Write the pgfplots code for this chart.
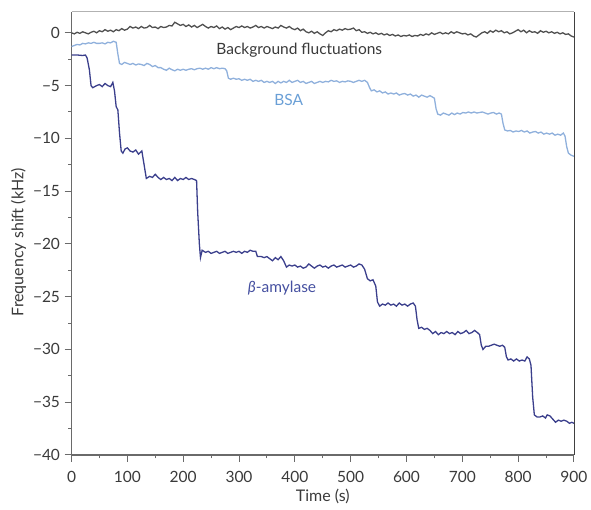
\documentclass[border=0pt]{standalone}
\usepackage{fontspec}
\setmainfont{Lato}
\usepackage{pgfplots}
\pgfplotsset{compat=1.18}
\definecolor{bgLine}{HTML}{505050}
\definecolor{bsaLine}{HTML}{8FB0DC}
\definecolor{bsaText}{HTML}{6A9FD6}
\definecolor{amyLine}{HTML}{3B3F8C}
\definecolor{amyText}{HTML}{4550A0}
\definecolor{axisInk}{HTML}{6A6A6A}
\definecolor{tickInk}{HTML}{3A3A3A}

\pgfplotstableread{
t y
0 0.0
5 -0.1
10 0.05
15 -0.05
20 0.1
25 0.0
30 -0.1
35 0.05
40 0.15
45 0.0
50 0.2
55 0.1
60 0.3
65 0.15
70 0.25
75 0.1
80 0.3
85 0.2
90 0.4
95 0.25
100 0.35
105 0.6
110 0.45
115 0.55
120 0.4
125 0.6
130 0.45
135 0.5
140 0.7
145 0.5
150 0.55
155 0.4
160 0.6
165 0.5
170 0.55
175 0.7
180 0.65
185 1.0
190 0.85
195 0.7
200 0.8
205 0.6
210 0.75
215 0.55
220 0.7
225 0.5
230 0.65
235 0.8
240 0.6
245 0.45
250 0.6
255 0.5
260 0.65
265 0.4
270 0.55
275 0.35
280 0.5
285 0.3
290 0.45
295 0.6
300 0.5
305 0.65
310 0.5
315 0.6
320 0.45
325 0.55
330 0.7
335 0.5
340 0.6
345 0.45
350 0.6
355 0.5
360 0.4
365 0.55
370 0.45
375 0.7
380 0.55
385 0.45
390 0.6
395 0.4
400 0.3
405 0.45
410 0.2
415 0.35
420 0.1
425 0.0
430 0.15
435 -0.05
440 0.1
445 -0.1
450 -0.25
455 0.0
460 0.2
465 0.1
470 0.3
475 0.2
480 0.35
485 0.25
490 0.4
495 0.3
500 0.35
505 0.45
510 0.2
515 0.3
520 0.05
525 0.1
530 -0.05
535 0.05
540 -0.1
545 0.0
550 -0.15
555 -0.05
560 -0.2
565 -0.1
570 -0.25
575 -0.15
580 -0.3
585 -0.2
590 -0.35
595 -0.25
600 -0.3
605 -0.2
610 -0.35
615 -0.25
620 -0.3
625 -0.15
630 -0.25
635 -0.1
640 -0.2
645 0.0
650 -0.15
655 -0.05
660 0.05
665 -0.1
670 0.0
675 -0.1
680 0.1
685 -0.05
690 0.1
695 0.0
700 -0.1
705 -0.05
710 -0.2
715 -0.1
720 -0.3
725 -0.4
730 -0.2
735 0.0
740 0.1
745 -0.05
750 0.2
755 0.05
760 0.25
765 0.1
770 0.2
775 0.0
780 0.1
785 -0.1
790 0.0
795 0.15
800 0.3
805 0.1
810 0.25
815 0.0
820 0.2
825 0.05
830 0.1
835 -0.05
840 0.2
845 0.05
850 0.15
855 0.0
860 0.1
865 -0.05
870 0.05
875 -0.1
880 0.0
885 -0.15
890 -0.1
895 -0.3
900 -0.4
}\bgdata

\pgfplotstableread{
t y
0 -1.3
5 -1.2
10 -1.1
15 -1.15
20 -1.0
25 -1.05
30 -0.95
35 -1.0
40 -0.9
45 -1.0
50 -1.0
55 -0.95
60 -1.05
65 -0.9
70 -0.95
75 -0.8
80 -0.9
83 -2.0
86 -2.9
90 -3.0
95 -2.8
100 -2.9
105 -3.0
110 -2.9
115 -3.05
120 -2.95
125 -3.0
130 -3.1
135 -2.9
140 -3.0
145 -3.2
150 -3.1
155 -3.3
160 -3.3
165 -3.45
170 -3.55
175 -3.35
180 -3.5
185 -3.6
190 -3.45
195 -3.55
200 -3.45
205 -3.55
210 -3.45
215 -3.4
220 -3.5
225 -3.4
230 -3.35
235 -3.45
240 -3.35
245 -3.45
250 -3.3
255 -3.4
260 -3.3
265 -3.4
270 -3.35
275 -3.4
278 -3.6
281 -4.3
285 -4.4
290 -4.3
295 -4.4
300 -4.35
305 -4.5
310 -4.4
315 -4.5
320 -4.4
325 -4.6
330 -4.5
335 -4.6
340 -4.5
345 -4.7
350 -4.6
355 -4.7
360 -4.6
365 -4.8
370 -4.6
375 -4.75
380 -4.6
385 -4.7
390 -4.5
395 -4.7
400 -4.6
405 -4.5
410 -4.7
415 -4.6
420 -4.8
425 -4.7
430 -4.6
435 -4.8
440 -4.7
445 -4.6
450 -4.7
455 -4.6
460 -4.65
465 -4.5
470 -4.6
475 -4.55
480 -4.7
485 -4.6
490 -4.65
495 -4.55
500 -4.6
505 -4.7
510 -4.6
515 -4.5
520 -4.6
525 -4.5
530 -4.7
534 -5.2
537 -5.5
542 -5.4
547 -5.6
552 -5.5
557 -5.7
562 -5.6
567 -5.8
572 -5.7
577 -5.8
582 -5.7
587 -5.9
592 -5.8
597 -5.75
602 -5.9
607 -5.8
612 -6.0
617 -5.9
622 -6.1
627 -5.9
632 -6.0
637 -6.1
642 -5.95
647 -6.1
650 -6.2
653 -7.2
656 -7.7
661 -7.8
666 -7.6
671 -7.7
676 -7.8
681 -7.6
686 -7.75
691 -7.6
696 -7.7
701 -7.55
706 -7.6
711 -7.5
716 -7.6
721 -7.5
726 -7.6
731 -7.55
736 -7.5
741 -7.6
746 -7.7
751 -7.6
756 -7.55
761 -7.7
766 -7.6
770 -7.7
773 -8.6
776 -9.2
781 -9.3
786 -9.25
791 -9.4
796 -9.3
801 -9.35
806 -9.25
811 -9.4
816 -9.3
821 -9.5
826 -9.4
831 -9.35
836 -9.5
841 -9.4
846 -9.6
851 -9.5
856 -9.6
861 -9.5
866 -9.7
871 -9.6
876 -9.7
881 -9.5
884 -9.8
887 -10.8
890 -11.4
895 -11.6
900 -11.7
}\bsadata

\pgfplotstableread{
t y
0 -2.1
10 -2.1
20 -2.15
25 -2.1
28 -2.4
32 -3.5
35 -5.0
38 -5.2
45 -5.0
50 -4.9
55 -5.1
60 -4.8
65 -5.0
70 -5.1
74 -4.7
77 -5.5
80 -7.0
83 -7.3
86 -9.5
89 -11.2
92 -11.4
96 -11.0
100 -10.9
105 -11.2
110 -11.3
115 -11.1
120 -11.5
126 -11.2
130 -12.5
134 -13.8
140 -13.6
145 -13.7
150 -13.4
155 -13.7
160 -13.9
165 -13.7
170 -13.9
175 -13.8
180 -14.0
185 -13.7
190 -14.0
195 -13.8
200 -13.9
205 -13.7
210 -13.9
215 -13.8
220 -13.9
224 -14.0
226 -17.0
229 -20.0
231 -21.3
234 -20.6
240 -20.8
245 -20.7
250 -20.9
255 -20.8
260 -20.7
265 -20.9
270 -20.8
275 -20.7
280 -20.9
285 -20.8
290 -20.7
295 -20.8
300 -20.7
305 -20.9
310 -20.7
315 -20.8
320 -20.6
325 -20.7
330 -20.7
333 -21.2
340 -21.2
345 -21.3
350 -21.2
355 -21.4
360 -21.6
365 -21.3
370 -21.5
375 -21.2
380 -21.6
385 -22.2
390 -22.0
395 -22.1
400 -22.0
405 -22.2
410 -22.1
415 -22.3
420 -22.2
425 -21.9
430 -22.1
435 -22.3
440 -22.1
445 -22.0
450 -22.2
455 -22.1
460 -22.3
465 -22.1
470 -22.0
475 -22.2
480 -22.1
485 -22.0
490 -22.2
495 -22.1
500 -22.0
505 -22.2
510 -22.1
515 -21.9
520 -22.0
525 -22.4
530 -23.3
535 -23.5
540 -23.4
545 -24.0
548 -25.5
552 -25.9
557 -25.7
562 -25.8
567 -25.6
572 -25.8
577 -25.7
582 -25.9
587 -25.6
592 -25.8
597 -25.7
602 -25.9
607 -25.7
612 -25.6
616 -25.9
619 -27.2
622 -28.0
627 -27.9
632 -28.1
637 -28.0
642 -28.2
647 -28.5
652 -28.3
657 -28.6
662 -28.4
667 -28.5
672 -28.3
677 -28.5
682 -28.4
687 -28.6
692 -28.3
697 -28.5
702 -28.4
707 -28.2
712 -28.5
717 -28.4
722 -28.2
727 -28.4
731 -28.6
734 -29.6
737 -30.0
742 -29.7
747 -29.7
752 -29.6
757 -29.5
762 -29.6
767 -29.7
772 -29.6
776 -29.8
779 -30.7
782 -31.0
787 -30.9
792 -31.1
797 -30.9
802 -31.1
807 -31.0
812 -31.1
816 -30.7
820 -30.9
823 -31.5
826 -34.5
829 -36.2
834 -36.4
839 -36.4
844 -36.3
849 -36.5
852 -36.2
857 -36.3
862 -36.6
867 -36.9
872 -36.7
877 -36.8
882 -36.7
887 -36.8
892 -37.0
896 -36.9
900 -37.0
}\amydata

\begin{document}
\begin{tikzpicture}
\begin{axis}[
    scale only axis,
    width=502.5pt, height=443.3pt,
    xmin=0, xmax=900, ymin=-40, ymax=2,
    axis x line*=bottom, axis y line*=left,
    axis line style={axisInk, line width=1.3pt, -},
    tick align=outside,
    major tick length=7pt, minor tick length=3.5pt,
    tick style={axisInk, line width=1pt},
    xtick={0,100,...,900},
    xticklabels={0,100,200,300,400,500,600,700,800,900},
    minor xtick={50,150,...,850},
    ytick={-40,-35,...,0},
    yticklabels={−40,−35,−30,−25,−20,−15,−10,−5,0},
    minor ytick={-37.5,-32.5,...,-2.5},
    ticklabel style={font=\fontsize{15.5pt}{18pt}\selectfont, text=tickInk},
    xticklabel style={yshift=-6pt},
    yticklabel style={xshift=-1pt},
    xlabel={Time (s)},
    ylabel={Frequency shift (kHz)},
    label style={font=\fontsize{16pt}{19pt}\selectfont, text=tickInk},
    xlabel style={at={(axis description cs:0.5,0)}, anchor=center, yshift=-41pt},
    ylabel style={at={(ticklabel cs:0.48)}},
    clip=false,
]
\addplot[bgLine, line width=1.3pt] table[x=t, y=y] {\bgdata};
\addplot[bsaLine, line width=1.3pt] table[x=t, y=y] {\bsadata};
\addplot[amyLine, line width=1.3pt] table[x=t, y=y] {\amydata};

\draw[black!30, line width=1.3pt] (rel axis cs:0,1) -- (rel axis cs:1,1);
\draw[black!75, line width=0.9pt] (rel axis cs:1,0) -- (rel axis cs:1,1);

\node[font=\fontsize{15.5pt}{18pt}\selectfont, text=tickInk] at (axis cs:408,-1.67) {Background fluctuations};
\node[font=\fontsize{15.5pt}{18pt}\selectfont, text=bsaText] at (axis cs:389,-6.4) {BSA};
\node[font=\fontsize{15.5pt}{18pt}\selectfont, text=amyText] at (axis cs:377,-24.2) {\textit{β}-amylase};

\coordinate (bbsw) at (axis cs:-128.1,-45.12);
\coordinate (bbne) at (axis cs:930.5,3.11);
\end{axis}
\pgfresetboundingbox
\path (bbsw) rectangle (bbne);
\end{tikzpicture}
\end{document}
